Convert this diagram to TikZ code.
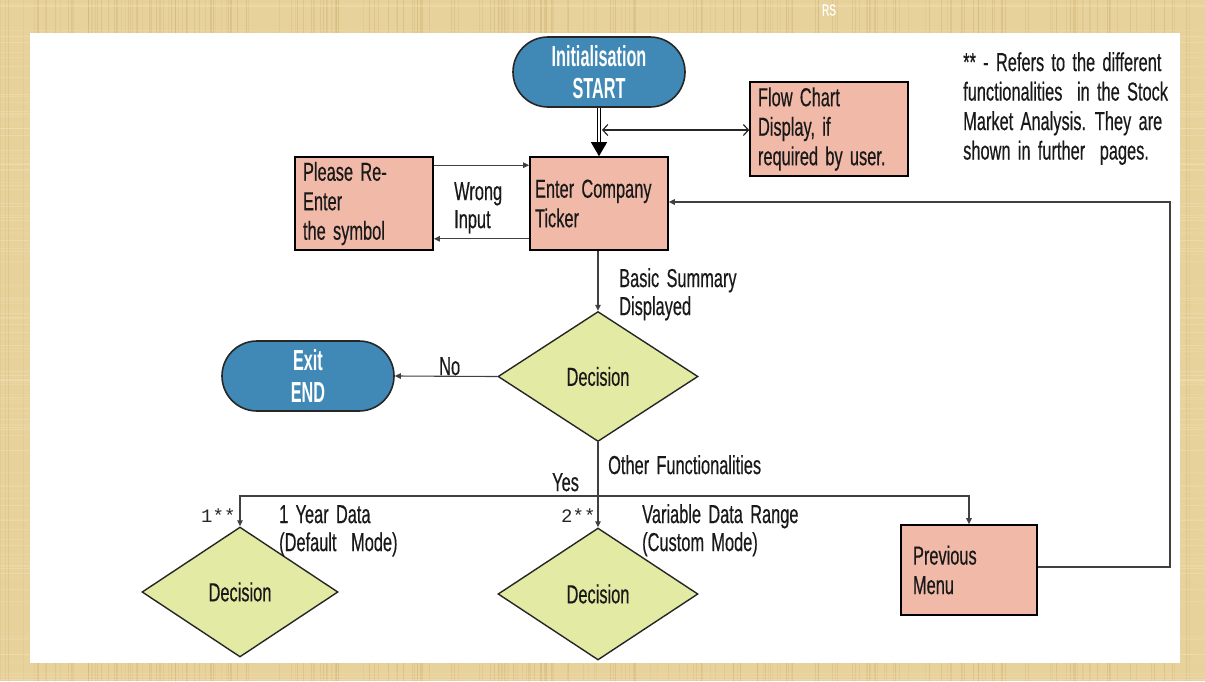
\documentclass[tikz,border=0pt]{standalone}
\usepackage{fontspec}
\setmainfont[FakeStretch=0.63, WordSpace=1.6, FakeBold=0.4]{Liberation Sans}
\newfontfamily\termfont[FakeStretch=0.56]{Liberation Sans}
\setmonofont{Liberation Mono}
\usetikzlibrary{shapes.geometric,arrows.meta,calc}
\definecolor{bgtan}{HTML}{E8D29C}
\definecolor{tandark}{HTML}{CDB272}
\definecolor{tanlight}{HTML}{F3E3B8}
\definecolor{termblue}{HTML}{4088B5}
\definecolor{boxpink}{HTML}{F1B9A8}
\definecolor{decgreen}{HTML}{E2EAA3}
\begin{document}
\begin{tikzpicture}[x=1pt,y=-1pt,
  term/.style={draw=black!85, line width=1.6pt, fill=termblue, rounded corners=35pt,
    minimum width=172pt, minimum height=70pt, text=white, align=center, inner sep=0pt,
    font=\termfont\bfseries\fontsize{29}{32}\selectfont},
  box/.style={draw=black, line width=1.6pt, fill=boxpink, minimum height=93pt,
    align=flush left, inner ysep=0pt, text=black!90, font=\fontsize{26}{29.5}\selectfont},
  dec/.style={diamond, draw=black!85, line width=1.4pt, fill=decgreen, inner sep=0pt,
    minimum width=200pt, minimum height=130pt, text=black!90, font=\fontsize{26}{28}\selectfont},
  conn/.style={draw=black!75, line width=1.1pt, -{Triangle[length=6pt,width=5.5pt]}},
  lbl/.style={anchor=north west, inner sep=0pt, align=flush left, text=black!90,
    font=\fontsize{26}{28}\selectfont},
  mono/.style={anchor=north west, inner sep=0pt, text=black!85, font=\ttfamily\fontsize{19}{22}\selectfont}
]
\useasboundingbox (0,0) rectangle (1205,681);
% background
\fill[bgtan] (0,0) rectangle (1205,681);
\pgfmathsetseed{7}
\foreach \i in {1,...,260}{
  \pgfmathsetmacro{\xx}{rnd*1205}
  \pgfmathsetmacro{\op}{0.15+rnd*0.35}
  \draw[tandark, opacity=\op, line width=0.8pt] (\xx,0) -- (\xx,681);
}
\foreach \i in {1,...,120}{
  \pgfmathsetmacro{\yy}{rnd*681}
  \pgfmathsetmacro{\op}{0.15+rnd*0.3}
  \draw[tanlight, opacity=\op, line width=0.8pt] (0,\yy) -- (1205,\yy);
}
\fill[white] (30,33) rectangle (1180,663);
\node[text=white, font=\fontsize{16}{16}\selectfont, inner sep=0pt] (rs) at (829,10) {RS};

% nodes
\node[term] (start) at (599,72) {Initialisation\\START};
\node[box, text width=142pt, inner xsep=8pt, minimum height=94pt] (flow) at (829,129) {Flow Chart\\Display, if\\required by user.};
\node[box, text width=128pt, inner xsep=5pt] (enter) at (599,203.5) {Enter Company\\Ticker};
\node[box, text width=122pt, inner xsep=8pt] (please) at (364,203.5) {Please Re-\\Enter\\the symbol};
\node[box, text width=112pt, inner xsep=12pt, minimum height=90pt] (prev) at (969,570) {Previous\\Menu};
\node[dec] (dec) at (598,376.5) {Decision};
\node[dec, minimum width=196pt] (dec1) at (240,592) {Decision};
\node[dec, minimum height=132pt] (dec2) at (598,594) {Decision};
\node[term] (exit) at (308,376) {Exit\\END};

% labels
\node[lbl] (wrong) at (454,182) {Wrong\\Input};
\node[lbl] (basic) at (619,268) {Basic Summary\\Displayed};
\node[lbl] (no) at (439,357) {No};
\node[lbl] (other) at (608,455) {Other Functionalities};
\node[lbl] (yes) at (552,473) {Yes};
\node[lbl] (y1) at (279,505) {1 Year Data\\(Default \ Mode)};
\node[lbl] (vd) at (642,504) {Variable Data Range\\(Custom Mode)};
\node[mono] (n1) at (201,509) {1**};
\node[mono] (n2) at (561,509) {2**};
\node[lbl, font=\fontsize{26}{29.5}\selectfont] (note) at (963,52) {** - Refers to the different\\functionalities \ in the Stock\\Market Analysis. They are\\shown in further \ pages.};

% connectors
\draw[draw=black, line width=1.3pt, double=white, double distance=2pt] (start.south) -- ([yshift=12pt]enter.north);
\draw[draw=black, line width=1pt, -{Triangle[length=14pt,width=16pt]}] ([yshift=14pt]enter.north) -- (enter.north);
\coordinate (dj) at ($(start.south |- flow.west)+(3,1)$);
\draw[black!85, line width=1.2pt, {Straight Barb[length=5pt,width=11pt]}-{Straight Barb[length=5pt,width=11pt]}] (dj) -- (dj -| flow.west);
\draw[conn] ([yshift=-9pt]please.north east) -- ([yshift=-9pt]enter.north west);
\draw[conn] ([yshift=12pt]enter.south west) -- ([yshift=12pt]please.south east);
\draw[conn] (enter.south -| dec.north) -- (dec.north);
\draw[conn] (dec.west) -- (exit.east);
\draw[conn] (dec.south) -- (dec2.north);
\coordinate (bus) at (598,496);
\draw[conn] (bus) -| (dec1.north);
\draw[conn] (bus) -| (prev.north);
\coordinate (loopc) at (1170,202);
\draw[conn] ([yshift=3pt]prev.east) -| (loopc) -- (enter.east |- loopc);
\end{tikzpicture}
\end{document}
